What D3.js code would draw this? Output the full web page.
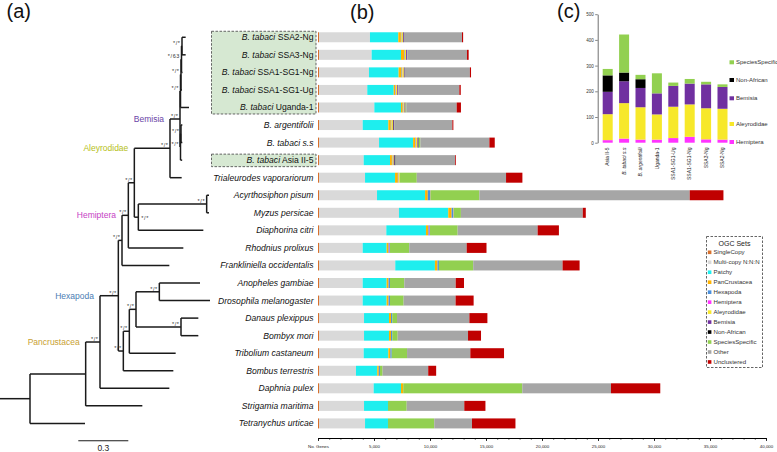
<!DOCTYPE html>
<html><head><meta charset="utf-8">
<script src="https://cdn.jsdelivr.net/npm/d3@7"></script>
<style>body{margin:0;background:#fff}svg{display:block;font-family:"Liberation Sans",Arial,Helvetica,sans-serif}</style>
</head><body>
<svg id="chart" width="777" height="452"></svg>
<script>
// ---------------- DATA ----------------
const species = ["B. tabaci SSA2-Ng","B. tabaci SSA3-Ng","B. tabaci SSA1-SG1-Ng","B. tabaci SSA1-SG1-Ug","B. tabaci Uganda-1","B. argentifolii","B. tabaci s.s","B. tabaci Asia II-5","Trialeurodes vaporariorum","Acyrthosiphon pisum","Myzus persicae","Diaphorina citri","Rhodnius prolixus","Frankliniella occidentalis","Anopheles gambiae","Drosophila melanogaster","Danaus plexippus","Bombyx mori","Tribolium castaneum","Bombus terrestris","Daphnia pulex","Strigamia maritima","Tetranychus urticae"];
const ogcSets = ["SingleCopy","Multi-copy N:N:N","Patchy","PanCrustacea","Hexapoda","Hemiptera","Aleyrodidae","Bemisia","Non-African","SpeciesSpecific","Other","Unclustered"];
const ogcColors = ["#d8702c","#d9d9d9","#1eeeee","#ffb300","#4a8fdc","#ff33ff","#f7e82a","#7030a0","#000000","#92d050","#a6a6a6","#c00000"];

const singleCopy      = [90,90,90,90,90,90,90,90,90,90,90,90,90,90,90,90,90,90,90,90,90,90,90];
const multiCopy       = [4550,4700,4460,4310,4940,3900,5360,3990,4110,5180,7140,6010,3900,6810,3900,3900,4020,4020,3990,3300,4880,4020,4110];
const patchy          = [2530,2620,2650,2360,2380,2290,3040,2350,2680,4290,4400,3540,2140,3540,2140,2140,2230,2230,2200,1900,2440,2140,2050];
const panCrustacea    = [230,270,260,130,150,220,180,170,250,240,300,220,170,230,170,170,180,180,180,140,200,0,0];
const hexapoda        = [50,55,55,47,53,52,50,50,50,200,140,110,100,127,125,125,115,115,120,100,0,0,0];
const hemiptera       = [12,13,23,18,12,12,16,10,20,30,30,30,25,0,0,0,0,0,0,0,0,0,0];
const aleyrodidae     = [120,121,126,122,98,126,138,101,100,0,0,0,0,0,0,0,0,0,0,0,0,0,0];
const bemisia         = [85,93,81,81,82,75,85,87,0,0,0,0,0,0,0,0,0,0,0,0,0,0,0];
const nonAfrican      = [0,0,0,0,0,34,34,64,0,0,0,0,0,0,0,0,0,0,0,0,0,0,0];
const speciesSpecific = [10,10,18,13,78,17,148,25,1520,4380,660,2470,1720,3060,1280,1220,420,480,1370,240,10630,1670,4130];
const other           = [5180,5330,5800,5450,4500,5180,6160,5300,7970,18780,10880,7140,5130,7980,4590,4640,6460,6280,5650,4070,7920,5140,3370];
const unclustered     = [100,150,100,125,380,90,480,70,1460,3010,270,1900,1770,1520,740,1610,1610,1160,3010,710,4400,1890,3880];
const xTickValues = [0,5000,10000,15000,20000,25000,30000,35000,40000];

// panel (c)
const cLabels = ["Asia II-5","B. tabaci s.s","B. argentifolii","Uganda-1","SSA1-SG1-Ug","SSA1-SG1-Ng","SSA3-Ng","SSA2-Ng"];
const cSets = ["Hemiptera","Aleyrodidae","Bemisia","Non-African","SpeciesSpecific"];
const cColors = ["#ff33ff","#f7e82a","#7030a0","#000000","#92d050"];
const cHemiptera       = [10,16,12,12,18,23,13,12];
const cAleyrodidae     = [101,138,126,98,122,126,121,120];
const cBemisia         = [87,85,75,82,81,81,93,85];
const cNonAfrican      = [64,34,34,0,0,0,0,0];
const cSpeciesSpecific = [25,148,17,78,13,18,10,10];
const cTickValues = [0,100,200,300,400,500];

// panel (a) tree (branch lengths in substitutions/site)
function N(len, sup, clade, ...children){ return {len, sup, clade, children}; }
function L(i, len){ return {name: species[i], len}; }
const tree = N(0.18, null, null,
  N(0.334, null, null,
    N(0.086, "*/*", "Pancrustacea",
      N(0.11, "*/*", "Hexapoda",
        N(0.022, "*/*", null,
          N(0.038, "*/*", "Hemiptera",
            N(0.036, "*/*", null,
              N(0.214, "*/*", "Aleyrodidae",
                N(0.06, "*/*", "Bemisia",
                  N(0.003, "*/*", null,
                    N(0.003, "*/*", null,
                      N(0.003, "*/63", null,
                        N(0.003, "*/*", null, L(0, 0.022), L(1, 0.022)),
                        L(2, 0.006)),
                      L(3, 0.006)),
                    L(4, 0.051)),
                  N(0.003, "*/*", null,
                    N(0.003, "*/*", null, L(5, 0.008), L(6, 0.008)),
                    L(7, 0.01))),
                L(8, 0.07)),
              N(0.024, ">*/*", null,
                N(0.41, "*/*", null, L(9, 0.014), L(10, 0.014)),
                L(11, 0.39))),
            L(12, 0.33)),
          L(13, 0.284)),
        N(0.03, "*/*", null,
          N(0.036, "*/*", null,
            N(0.04, "*/*", null,
              N(0.14, "*/*", null, L(14, 0.244), L(15, 0.304)),
              N(0.27, "*/*", null, L(16, 0.104), L(17, 0.104))),
            L(18, 0.278)),
          L(19, 0.3))),
      L(20, 0.416)),
    L(21, 0.34)),
  L(22, 0.33));
const cladeColors = {Bemisia:"#6a44a6", Aleyrodidae:"#b5c020", Hemiptera:"#c63fc4", Hexapoda:"#4a7db3", Pancrustacea:"#c9a132"};

// ---------------- DRAW ----------------
const svg = d3.select("#chart");
const series = [singleCopy,multiCopy,patchy,panCrustacea,hexapoda,hemiptera,aleyrodidae,bemisia,nonAfrican,speciesSpecific,other,unclustered];
const table = species.map((s,i)=>{ const r={species:s}; ogcSets.forEach((k,j)=>r[k]=series[j][i]); return r; });
const color = d3.scaleOrdinal(ogcSets, ogcColors);

const y = d3.scaleBand().domain(species).range([28.5, 432.2]).paddingInner(0.43).paddingOuter(0.215);
const x = d3.scaleLinear().domain([0,40000]).range([318,766]);

// green boxes
function gbox(a,b){
  svg.append("rect").attr("x",211.5).attr("y",y(species[a])-1).attr("width",104.5)
    .attr("height",y(species[b])+y.bandwidth()+1.5-(y(species[a])-1))
    .attr("fill","#d6e8d2").attr("stroke","#555").attr("stroke-width",0.9).attr("stroke-dasharray","2.5,1.5");
}
gbox(0,4); gbox(7,7);

// bars
const stacked = d3.stack().keys(ogcSets)(table);
svg.append("g").selectAll("g").data(stacked).join("g").attr("fill",d=>color(d.key))
  .selectAll("rect").data(d=>d).join("rect")
  .attr("x",d=>x(d[0])).attr("y",d=>y(d.data.species))
  .attr("width",d=>Math.max(0,x(d[1])-x(d[0]))).attr("height",y.bandwidth());

// species labels
const lab = svg.append("g").attr("font-size",8.6).attr("fill","#111");
species.forEach(s=>{
  const t = lab.append("text").attr("x",313.5).attr("y",y(s)+y.bandwidth()/2).attr("dy","0.35em").attr("text-anchor","end");
  if (s.startsWith("B. tabaci ") && s!=="B. tabaci s.s"){
    t.append("tspan").attr("font-style","italic").text("B. tabaci");
    t.append("tspan").text(" "+s.slice(10));
  } else t.append("tspan").attr("font-style","italic").text(s);
});

// x axis
const axY = 438;
const minor = svg.append("g").attr("transform",`translate(0,${axY})`)
  .call(d3.axisBottom(x).tickValues(d3.range(0,40001,1000)).tickSize(2).tickFormat(""));
minor.select(".domain").remove();
minor.selectAll("line").attr("stroke","#333").attr("stroke-width",0.6);
const ax = svg.append("g").attr("transform",`translate(0,${axY})`)
  .call(d3.axisBottom(x).tickValues(xTickValues).tickSize(3).tickSizeOuter(0)
    .tickFormat(d=>d===0?"No. Genes":d3.format(",")(d)));
ax.select(".domain").attr("stroke","#000").attr("stroke-width",1);
ax.selectAll("text").attr("font-size",4.4).attr("fill","#222").attr("y",7);
ax.selectAll("line").attr("stroke","#000").attr("stroke-width",0.8);

// legend (b)
const lg = svg.append("g");
lg.append("rect").attr("x",706.5).attr("y",236.5).attr("width",56).attr("height",131)
  .attr("fill","#fff").attr("stroke","#555").attr("stroke-width",0.9).attr("stroke-dasharray","2.5,1.5");
lg.append("text").attr("x",734.5).attr("y",246).attr("text-anchor","middle").attr("font-size",7).attr("fill","#222").text("OGC Sets");
ogcSets.forEach((k,i)=>{
  const yy = 252.3 + i*9.97;
  lg.append("rect").attr("x",707.8).attr("y",yy-1.8).attr("width",3.6).attr("height",3.6).attr("fill",color(k));
  lg.append("text").attr("x",713.5).attr("y",yy).attr("dy","0.35em").attr("font-size",6.1).attr("fill","#333").text(k);
});

// ---------------- TREE ----------------
const root = d3.hierarchy(tree, d=>d.children);
const tx = d3.scaleLinear().domain([0,0.3]).range([0,50]);
root.eachBefore(n=>{ n.bl = (n.parent? n.parent.bl : 0) + n.data.len; });
root.eachAfter(n=>{
  if (n.children) n.yy = (n.children[0].yy + n.children[n.children.length-1].yy)/2;
  else n.yy = y(n.data.name)+y.bandwidth()/2;
});
const tg = svg.append("g").attr("stroke","#1a1a1a").attr("stroke-width",1.5).attr("fill","none");
root.each(n=>{
  const x0 = tx(n.parent? n.parent.bl : 0), x1 = tx(n.bl);
  tg.append("line").attr("x1",x0).attr("x2",x1).attr("y1",n.yy).attr("y2",n.yy);
  if (n.children){
    tg.append("line").attr("x1",x1).attr("x2",x1)
      .attr("y1",n.children[0].yy).attr("y2",n.children[n.children.length-1].yy);
  }
});
const sg = svg.append("g").attr("font-size",5.5).attr("fill","#333");
root.each(n=>{
  if (!n.data.sup) return;
  const right = n.data.sup.startsWith(">");
  const txt = right? n.data.sup.slice(1) : n.data.sup;
  sg.append("text").attr("x", right? tx(n.bl)+3 : tx(n.bl)-1.5)
    .attr("y", right? n.yy+3 : n.yy-1.2).attr("text-anchor", right?"start":"end")
    .attr("letter-spacing",0.6).text(txt);
});
root.each(n=>{
  if (!n.data.clade) return;
  svg.append("text").attr("x", tx(n.parent.bl)-6).attr("y", n.yy).attr("dy","0.35em")
    .attr("text-anchor","end").attr("font-size",8.5).attr("fill",cladeColors[n.data.clade]).text(n.data.clade);
});
// scale bar
svg.append("line").attr("x1",78.3).attr("x2",78.3+tx(0.3)-tx(0)).attr("y1",440.7).attr("y2",440.7)
  .attr("stroke","#1a1a1a").attr("stroke-width",1.1);
svg.append("text").attr("x",78.3+(tx(0.3)-tx(0))/2).attr("y",451).attr("text-anchor","middle")
  .attr("font-size",8.5).attr("fill","#222").text("0.3");

// ---------------- PANEL (c) ----------------
const cSeries = [cHemiptera,cAleyrodidae,cBemisia,cNonAfrican,cSpeciesSpecific];
const cTable = cLabels.map((s,i)=>{ const r={label:s}; cSets.forEach((k,j)=>r[k]=cSeries[j][i]); return r; });
const cColor = d3.scaleOrdinal(cSets, cColors);
const cx = d3.scaleBand().domain(cLabels).range([599.5,730.7]).paddingInner(0.39).paddingOuter(0.195);
const cy = d3.scaleLinear().domain([0,500]).range([142.7,14.2]);
const cStack = d3.stack().keys(cSets)(cTable);
svg.append("g").selectAll("g").data(cStack).join("g").attr("fill",d=>cColor(d.key))
  .selectAll("rect").data(d=>d).join("rect")
  .attr("x",d=>cx(d.data.label)).attr("width",cx.bandwidth())
  .attr("y",d=>cy(d[1])).attr("height",d=>Math.max(0,cy(d[0])-cy(d[1])));
const cax = svg.append("g").attr("transform","translate(597.7,0)")
  .call(d3.axisLeft(cy).tickValues(cTickValues).tickSize(2.5).tickSizeOuter(0).tickPadding(1.5));
cax.select(".domain").attr("stroke","#333").attr("stroke-width",0.7);
cax.selectAll("line").attr("stroke","#333").attr("stroke-width",0.6);
cax.selectAll("text").attr("font-size",4.5).attr("fill","#333");
cLabels.forEach(s=>{
  const xx = cx(s)+cx.bandwidth()/2;
  const t = svg.append("text").attr("transform",`translate(${xx},147.5) rotate(-90)`)
    .attr("text-anchor","end").attr("dy","0.35em").attr("font-size",5).attr("fill","#222").text(s);
  if (s.startsWith("B. ")) t.attr("font-style","italic");
});
const cLegendY = {SpeciesSpecific:62.3,"Non-African":80,Bemisia:98.3,Aleyrodidae:124,Hemiptera:142};
cSets.forEach(k=>{
  const yy = cLegendY[k];
  svg.append("rect").attr("x",729.5).attr("y",yy-2).attr("width",4.5).attr("height",4).attr("fill",cColor(k));
  svg.append("text").attr("x",736).attr("y",yy).attr("dy","0.35em").attr("font-size",6).attr("fill","#333").text(k);
});

// panel letters
svg.append("text").attr("x",6.5).attr("y",18).attr("font-size",20).attr("fill","#111").text("(a)");
svg.append("text").attr("x",350).attr("y",18.5).attr("font-size",20).attr("fill","#111").text("(b)");
svg.append("text").attr("x",557).attr("y",18).attr("font-size",20).attr("fill","#111").text("(c)");
</script>
</body></html>
